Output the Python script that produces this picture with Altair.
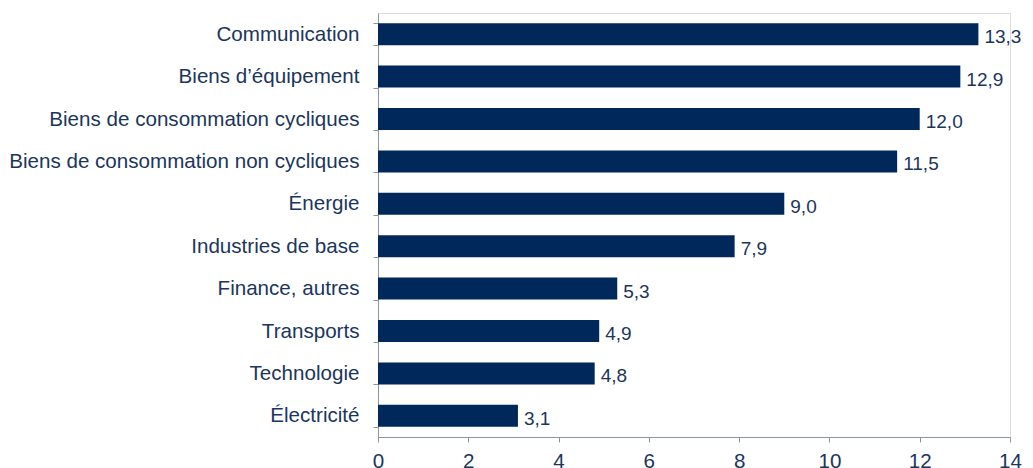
import altair as alt
import pandas as pd

categories = [
    "Communication",
    "Biens d\u2019équipement",
    "Biens de consommation cycliques",
    "Biens de consommation non cycliques",
    "Énergie",
    "Industries de base",
    "Finance, autres",
    "Transports",
    "Technologie",
    "Électricité",
]
values = [13.3, 12.9, 12.0, 11.5, 9.0, 7.9, 5.3, 4.9, 4.8, 3.1]
x_ticks = [0, 2, 4, 6, 8, 10, 12, 14]

df = pd.DataFrame({"cat": categories, "val": values})
df["label"] = [f"{v:.1f}".replace(".", ",") for v in values]

BAR = "#00285a"
TXT = "#1b365d"
AXIS = "#8c96a3"
FONT = "Liberation Sans"

y_enc = alt.Y(
    "cat:N",
    sort=categories,
    title=None,
    scale=alt.Scale(paddingInner=0.48, paddingOuter=0.24),
    axis=alt.Axis(
        labelFont=FONT,
        labelFontSize=20.6,
        labelColor=TXT,
        labelPadding=14,
        tickSize=5,
        tickColor=AXIS,
        domainColor=AXIS,
        tickBand="extent",
        labelLimit=400,
    ),
)
x_enc = alt.X(
    "val:Q",
    title=None,
    scale=alt.Scale(domain=[0, 14], nice=False),
    axis=alt.Axis(
        values=x_ticks,
        grid=False,
        labelFont=FONT,
        labelFontSize=20.6,
        labelColor=TXT,
        labelPadding=9,
        tickSize=5,
        tickColor=AXIS,
        domainColor=AXIS,
        labelFlush=False,
    ),
)

bars = alt.Chart(df).mark_bar(color=BAR).encode(x=x_enc, y=y_enc)
labels = alt.Chart(df).mark_text(
    align="left", baseline="middle", dx=6, dy=3,
    font=FONT, fontSize=19, color=TXT,
).encode(x="val:Q", y=alt.Y("cat:N", sort=categories), text="label:N")

chart = (
    alt.layer(bars, labels)
    .properties(
        width=632, height=424,
        autosize=alt.AutoSizeParams(type="none"),
        padding={"left": 370, "top": 5, "right": 15, "bottom": 40},
    )
    .configure_view(stroke=None)
    .configure(background="white")
)

chart.save("out.html", embed_options={"renderer": "svg", "actions": False})
